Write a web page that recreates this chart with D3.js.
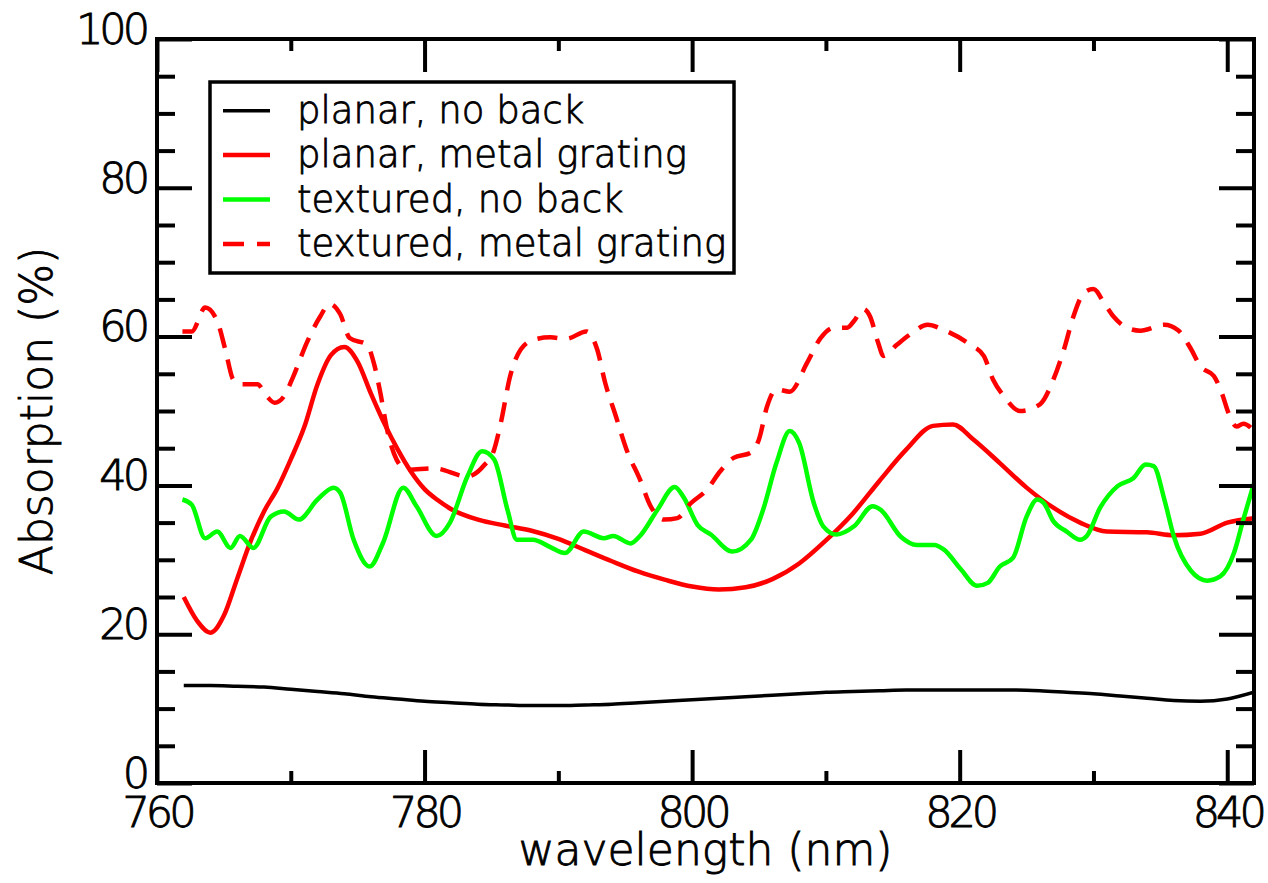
<!DOCTYPE html>
<html>
<head>
<meta charset="utf-8">
<script src="https://cdn.jsdelivr.net/npm/d3@7"></script>
<style>
  body { margin: 0; background: #fff; }
  svg { display: block; }
  .tick text { font-family: "DejaVu Sans", sans-serif; font-weight: 200; font-size: 43px; fill: #000; stroke: #000; stroke-width: 0.9px; letter-spacing: -4px; }
  .title { font-family: "DejaVu Sans", sans-serif; font-weight: 200; font-size: 44px; fill: #000; stroke: #000; stroke-width: 0.9px; }
  .legend text { font-family: "DejaVu Sans", sans-serif; font-weight: 200; font-size: 37px; fill: #000; stroke: #000; stroke-width: 0.8px; }
</style>
</head>
<body>
<script>
// wavelength (nm) / absorption (%)
const planarNoBack = [
  [762, 13.1], [764, 13.1], [766, 13.0], [768, 12.9], [770, 12.6], [772, 12.3],
  [774, 12.0], [776, 11.6], [778, 11.3], [780, 11.0], [782, 10.8], [784, 10.6],
  [786, 10.5], [788, 10.4], [790, 10.4], [792, 10.5], [794, 10.6], [796, 10.8],
  [798, 11.0], [800, 11.2], [802, 11.4], [804, 11.6], [806, 11.8], [808, 12.0],
  [810, 12.2], [812, 12.3], [814, 12.4], [816, 12.5], [818, 12.5], [820, 12.5],
  [822, 12.5], [824, 12.5], [826, 12.4], [828, 12.2], [830, 12.0], [832, 11.7],
  [834, 11.4], [836, 11.1], [838, 11.0], [840, 11.3], [842, 12.2]
];

const planarGrating = [
  [762, 25.0], [763, 21.8], [764, 20.2], [765, 22.5], [766, 27.5], [767, 32.5],
  [768, 36.5], [769, 39.6], [770, 43.5], [771, 47.8], [772, 53.6], [773, 57.5],
  [774, 58.6], [775, 56.6], [776, 52.3], [777, 48.3], [778, 44.8], [779, 41.8],
  [780, 39.5], [781, 38.0], [782, 36.8], [784, 35.4], [786, 34.6], [788, 33.9],
  [790, 32.8], [792, 31.3], [794, 29.8], [796, 28.4], [798, 27.3], [800, 26.4],
  [802, 26.0], [804, 26.3], [806, 27.4], [808, 29.5], [810, 32.6], [812, 36.2],
  [814, 40.6], [816, 44.8], [818, 48.0], [819.5, 48.2], [821, 46.2], [823, 43.0],
  [825, 39.7], [827, 37.0], [829, 35.0], [831, 33.8], [834, 33.7], [836, 33.3],
  [838, 33.5], [840, 35.0], [842, 35.6]
];

const texturedNoBack = [
  [761.9, 38.1], [762.6, 37.4], [763.6, 32.9], [764.5, 33.8], [765.5, 31.6], [766.2, 33.2],
  [767.2, 31.6], [768.5, 35.8], [769.5, 36.5], [770.6, 35.4], [772.0, 38.1], [773.2, 39.7],
  [773.7, 39.0], [774.7, 32.7], [775.9, 29.1], [776.9, 32.3], [778.4, 39.7], [779.4, 37.2],
  [780.9, 33.2], [781.9, 35.0], [783.2, 41.2], [784.3, 44.6], [785.2, 43.5], [786.2, 36.7],
  [786.9, 32.7], [788.1, 32.7], [789.4, 31.7], [790.5, 30.9], [791.9, 33.8], [793.4, 32.9],
  [794.1, 33.2], [795.4, 32.2], [796.1, 33.2], [797.4, 36.7], [798.7, 39.8], [799.4, 38.3],
  [800.4, 34.7], [801.4, 33.4], [803.0, 31.1], [804.4, 32.7], [805.3, 36.7], [806.3, 43.0],
  [807.3, 47.3], [808.0, 45.7], [809.1, 37.6], [809.8, 34.5], [810.8, 33.4], [812.1, 34.5],
  [813.5, 37.2], [814.1, 36.7], [815.6, 33.1], [816.8, 32.0], [818.1, 32.0], [818.8, 31.4],
  [820.1, 28.7], [821.3, 26.5], [822.1, 26.9], [823.0, 29.1], [824.0, 30.3], [825.0, 35.8],
  [825.8, 38.1], [826.3, 37.6], [827.0, 35.2], [828.0, 33.8], [829.0, 32.7], [829.5, 33.2],
  [830.5, 37.0], [831.8, 39.9], [833.0, 41.0], [833.9, 42.8], [834.5, 42.6], [835.3, 38.1],
  [836.0, 33.2], [837.3, 28.5], [838.5, 27.2], [839.5, 27.8], [840.5, 30.9], [841.2, 35.4],
  [842.0, 40.3]
];

const texturedGrating = [
  [761.9, 60.7], [762.6, 60.7], [763.6, 63.9], [764.5, 62.1], [765.1, 58.3], [765.7, 54.2],
  [766.2, 53.6], [767.5, 53.6], [768.2, 52.0], [768.8, 51.1], [769.5, 52.0], [770.2, 54.7],
  [771.2, 59.2], [772.2, 62.7], [772.9, 64.4], [773.7, 63.0], [774.4, 59.8], [775.7, 58.9],
  [776.2, 56.5], [776.7, 52.4], [777.2, 47.5], [777.9, 43.5], [778.7, 42.1], [780.7, 42.3],
  [783.2, 41.2], [784.4, 42.6], [785.2, 44.8], [785.7, 48.4], [786.4, 54.7], [787.2, 58.3],
  [788.2, 59.6], [789.4, 59.9], [790.6, 59.7], [792.1, 60.7], [792.9, 58.3], [793.5, 53.8],
  [794.3, 49.3], [795.1, 44.8], [796.1, 40.8], [796.9, 37.2], [797.9, 35.4], [798.9, 35.6],
  [799.9, 37.6], [801.1, 39.4], [802.1, 41.9], [803.1, 43.7], [804.4, 44.4], [805.0, 46.2],
  [805.6, 50.6], [806.3, 52.9], [807.3, 52.6], [808.6, 56.5], [809.6, 59.8], [810.6, 61.2],
  [811.6, 61.2], [812.1, 62.1], [812.8, 63.7], [813.3, 62.7], [813.9, 59.2], [814.3, 57.4],
  [815.3, 58.9], [816.3, 60.3], [817.6, 61.6], [818.8, 60.9], [820.8, 58.9], [821.8, 57.4],
  [822.5, 54.2], [823.3, 52.0], [824.5, 50.0], [826.0, 50.9], [827.0, 54.2], [827.8, 58.3],
  [828.5, 62.7], [829.3, 65.9], [830.0, 66.4], [830.8, 64.5], [831.5, 62.7], [832.5, 61.2],
  [833.5, 60.8], [835.3, 61.6], [836.3, 60.9], [837.3, 58.3], [838.0, 56.0], [839.0, 54.7],
  [839.6, 52.4], [840.1, 49.7], [840.7, 47.9], [841.2, 48.3], [842.1, 47.1]
];

const xMajor = [760, 780, 800, 820, 840];
const xMinor = [770, 790, 810, 830];
const yMajor = [0, 20, 40, 60, 80, 100];
const yMinor = [5, 10, 15, 25, 30, 35, 45, 50, 55, 65, 70, 75, 85, 90, 95];

const series = [
  { name: 'planar, no back', data: planarNoBack, color: '#000000', width: 3.5, dash: null },
  { name: 'planar, metal grating', data: planarGrating, color: '#ff0000', width: 4.5, dash: null },
  { name: 'textured, no back', data: texturedNoBack, color: '#00ff00', width: 4.5, dash: null },
  { name: 'textured, metal grating', data: texturedGrating, color: '#ff0000', width: 4.5, dash: '20,12' }
];

const width = 1268, height = 883;
const frame = { left: 157, right: 1254, top: 39, bottom: 783 };

const svg = d3.select('body').append('svg')
  .attr('width', width)
  .attr('height', height);

const x = d3.scaleLinear().domain([760, 842]).range([frame.left, frame.right]);
const y = d3.scaleLinear().domain([0, 100]).range([frame.bottom, frame.top]);

svg.append('clipPath').attr('id', 'clip')
  .append('rect')
  .attr('x', frame.left).attr('y', frame.top)
  .attr('width', frame.right - frame.left).attr('height', frame.bottom - frame.top);

const line = d3.line()
  .x(d => x(d[0]))
  .y(d => y(d[1]))
  .curve(d3.curveMonotoneX);

svg.append('g').attr('clip-path', 'url(#clip)')
  .selectAll('path')
  .data(series)
  .join('path')
  .attr('d', d => line(d.data))
  .attr('fill', 'none')
  .attr('stroke', d => d.color)
  .attr('stroke-width', d => d.width)
  .attr('stroke-dasharray', d => d.dash)
  .attr('stroke-linejoin', 'round');

// axes: all ticks point into the frame
function styleAxis(g) {
  g.select('.domain').remove();
  g.selectAll('.tick line').attr('stroke', '#000').attr('stroke-width', 4);
}

svg.append('g')
  .attr('transform', 'translate(0,' + frame.bottom + ')')
  .call(d3.axisBottom(x).tickValues(xMajor).tickSize(-33).tickPadding(13).tickFormat(d3.format('d')))
  .call(styleAxis);
svg.append('g')
  .attr('transform', 'translate(0,' + frame.bottom + ')')
  .call(d3.axisBottom(x).tickValues(xMinor).tickSize(-12).tickFormat(''))
  .call(styleAxis);
svg.append('g')
  .attr('transform', 'translate(0,' + frame.top + ')')
  .call(d3.axisTop(x).tickValues(xMajor).tickSize(-33).tickFormat(''))
  .call(styleAxis);
svg.append('g')
  .attr('transform', 'translate(0,' + frame.top + ')')
  .call(d3.axisTop(x).tickValues(xMinor).tickSize(-12).tickFormat(''))
  .call(styleAxis);

svg.append('g')
  .attr('transform', 'translate(' + frame.left + ',0)')
  .call(d3.axisLeft(y).tickValues(yMajor).tickSize(-35).tickPadding(11).tickFormat(d3.format('d')))
  .call(styleAxis)
  .call(g => g.selectAll('.tick text').attr('dy', '0.1em'));
svg.append('g')
  .attr('transform', 'translate(' + frame.left + ',0)')
  .call(d3.axisLeft(y).tickValues(yMinor).tickSize(-18).tickFormat(''))
  .call(styleAxis);
svg.append('g')
  .attr('transform', 'translate(' + frame.right + ',0)')
  .call(d3.axisRight(y).tickValues(yMajor).tickSize(-35).tickFormat(''))
  .call(styleAxis);
svg.append('g')
  .attr('transform', 'translate(' + frame.right + ',0)')
  .call(d3.axisRight(y).tickValues(yMinor).tickSize(-18).tickFormat(''))
  .call(styleAxis);

svg.append('rect')
  .attr('x', frame.left).attr('y', frame.top)
  .attr('width', frame.right - frame.left).attr('height', frame.bottom - frame.top)
  .attr('fill', 'none')
  .attr('stroke', '#000')
  .attr('stroke-width', 4);

svg.selectAll('g[font-family]').attr('font-size', null).attr('font-family', null);

// titles
svg.append('text')
  .attr('class', 'title')
  .attr('x', (frame.left + frame.right) / 2)
  .attr('y', 865)
  .attr('text-anchor', 'middle')
  .text('wavelength (nm)');

svg.append('text')
  .attr('class', 'title')
  .attr('transform', 'translate(52,' + ((frame.top + frame.bottom) / 2) + ') rotate(-90)')
  .attr('text-anchor', 'middle')
  .text('Absorption (%)');

// legend
const legend = svg.append('g').attr('class', 'legend');
legend.append('rect')
  .attr('x', 210).attr('y', 82)
  .attr('width', 524).attr('height', 191)
  .attr('fill', '#fff')
  .attr('stroke', '#000')
  .attr('stroke-width', 3.5);

const rows = legend.selectAll('g.row')
  .data(series)
  .join('g')
  .attr('class', 'row')
  .attr('transform', (d, i) => 'translate(0,' + (110.7 + i * 44.4) + ')');

rows.append('line')
  .attr('x1', 223).attr('x2', 270)
  .attr('stroke', d => d.color)
  .attr('stroke-width', d => d.width)
  .attr('stroke-dasharray', d => d.dash ? '21,13' : null);

rows.append('text')
  .attr('x', 297)
  .attr('y', 12)
  .text(d => d.name);
</script>
</body>
</html>
